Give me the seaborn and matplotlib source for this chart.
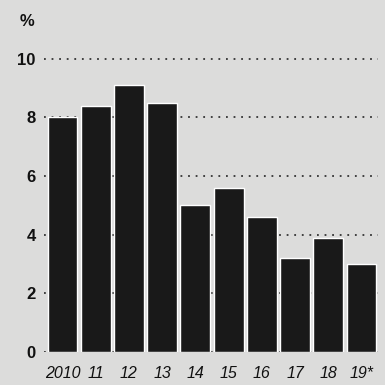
import matplotlib
matplotlib.use("Agg")
import matplotlib.pyplot as plt
import seaborn as sns
import pandas as pd

# Annual rate, per cent
years = ["2010", "11", "12", "13", "14", "15", "16", "17", "18", "19*"]
rates = [8.0, 8.4, 9.1, 8.5, 5.0, 5.6, 4.6, 3.2, 3.9, 3.0]
y_ticks = [0, 2, 4, 6, 8, 10]

df = pd.DataFrame({"year": years, "rate": rates})

sns.set_style("white")
plt.rcParams["font.family"] = ["Liberation Sans", "DejaVu Sans"]

bg = "#dcdcdb"
fig = plt.figure(figsize=(3.85, 3.85), dpi=100, facecolor=bg)
ax = fig.add_axes([0.114, 0.086, 0.868, 0.807], facecolor=bg)

sns.barplot(data=df, x="year", y="rate", color="#191919", saturation=1,
            width=0.9, ax=ax, zorder=3)

ax.set_ylim(0, 10.6)
ax.set_xlim(-0.56, 9.5)
ax.set_yticks(y_ticks)
ax.set_yticklabels([str(t) for t in y_ticks], fontsize=12, fontweight="bold",
                   color="#111111")
ax.set_xticks(range(len(years)))
ax.set_xticklabels(years, fontsize=11.5, style="italic", color="#111111")
ax.tick_params(axis="y", length=0, pad=6)
ax.tick_params(axis="x", length=0, pad=10)
ax.set_xlabel("")
ax.set_ylabel("")

ax.yaxis.grid(True, color="#333333", linestyle=(0, (1, 3.2)), linewidth=1.3,
              zorder=1)
ax.xaxis.grid(False)
ax.set_axisbelow(True)
for s in ax.spines.values():
    s.set_visible(False)

fig.text(0.052, 0.945, "%", fontsize=12, fontweight="bold", color="#111111",
         ha="left", va="center")

fig.savefig("out.png", dpi=100, facecolor=bg)
